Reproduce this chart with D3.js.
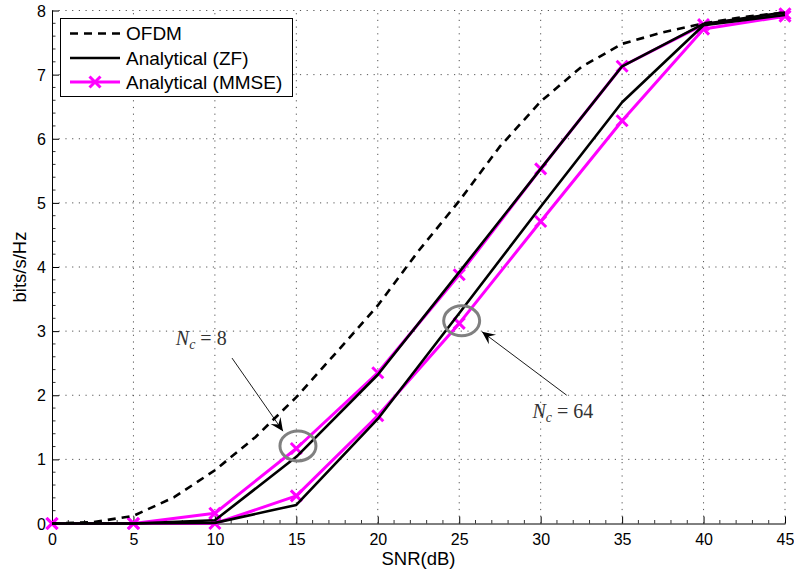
<!DOCTYPE html>
<html>
<head>
<meta charset="utf-8">
<script src="https://cdn.jsdelivr.net/npm/d3@7/dist/d3.min.js"></script>
<style>
  html, body { margin: 0; padding: 0; background: #fff; }
  svg { display: block; }
</style>
</head>
<body>
<svg id="chart" width="794" height="575"></svg>
<script>
// ---- data ----
const snr = [0, 5, 10, 15, 20, 25, 30, 35, 40, 45];
const ofdmSnr = [0, 2.5, 5, 7.5, 10, 12.5, 15, 17.5, 20, 22.5, 25, 27.5, 30, 32.5, 35, 37.5, 40, 42.5, 45];
const ofdm = [0, 0.02, 0.12, 0.41, 0.83, 1.35, 1.97, 2.68, 3.4, 4.25, 5.03, 5.88, 6.58, 7.12, 7.48, 7.66, 7.8, 7.9, 7.97];
const zf8 = [0, 0, 0.05, 1.04, 2.32, 3.92, 5.53, 7.13, 7.79, 7.97];
const mmse8 = [0, 0, 0.16, 1.17, 2.35, 3.88, 5.53, 7.13, 7.78, 7.95];
const zf64 = [0, 0, 0.01, 0.29, 1.63, 3.28, 4.94, 6.57, 7.77, 7.93];
const mmse64 = [0, 0, 0.0, 0.43, 1.68, 3.12, 4.71, 6.28, 7.71, 7.91];
const xTicks = [0, 5, 10, 15, 20, 25, 30, 35, 40, 45];
const yTicks = [0, 1, 2, 3, 4, 5, 6, 7, 8];
const legendLabels = ["OFDM", "Analytical (ZF)", "Analytical (MMSE)"];
const xLabel = "SNR(dB)";
const yLabel = "bits/s/Hz";

// ---- layout ----
const svg = d3.select("#chart");
const L = 52, R = 785, T = 10.5, B = 523.5;
const x = d3.scaleLinear().domain([0, 45]).range([L, R]);
const y = d3.scaleLinear().domain([0, 8]).range([B, T]);
const sans = "'Liberation Sans', Arial, Helvetica, sans-serif";
const serif = "'Liberation Serif', 'Times New Roman', serif";
const MAG = "#ff00ff";

// grid
const grid = svg.append("g");
grid.selectAll("line.gx").data(xTicks.filter(d => d > 0)).join("line")
  .attr("x1", d => x(d)).attr("x2", d => x(d)).attr("y1", B).attr("y2", T)
  .attr("stroke", "#555").attr("stroke-width", 1).attr("stroke-dasharray", "1.2,5.5");
grid.selectAll("line.gy").data(yTicks.filter(d => d > 0)).join("line")
  .attr("y1", d => y(d)).attr("y2", d => y(d)).attr("x1", L).attr("x2", R)
  .attr("stroke", "#555").attr("stroke-width", 1).attr("stroke-dasharray", "1.2,5.5");

// axes
const xAxis = d3.axisBottom(x).tickValues(xTicks).tickSize(-7).tickPadding(10).tickSizeOuter(0);
const yAxis = d3.axisLeft(y).tickValues(yTicks).tickSize(-7).tickPadding(6).tickSizeOuter(0);
const gx = svg.append("g").attr("transform", `translate(0,${B})`).call(xAxis);
const gy = svg.append("g").attr("transform", `translate(${L},0)`).call(yAxis);
[gx, gy].forEach(g => {
  g.select(".domain").attr("stroke", "#000").attr("stroke-width", 1);
  g.selectAll(".tick line").attr("stroke", "#000");
  g.selectAll(".tick text").attr("font-family", sans).attr("font-size", 16).attr("fill", "#000");
});
gx.selectAll(".tick text").attr("dy", "0.71em");
gy.selectAll(".tick text").attr("dy", "0.35em");

// minor ticks
const xMinor = d3.range(0, 46, 1).filter(d => d % 5 !== 0);
const yMinor = d3.range(0, 8.01, 0.2).filter(d => Math.abs(d - Math.round(d)) > 1e-6);
svg.append("g").selectAll("line").data(xMinor).join("line")
  .attr("x1", d => x(d)).attr("x2", d => x(d)).attr("y1", B).attr("y2", B - 3.5)
  .attr("stroke", "#000").attr("stroke-width", 0.8);
svg.append("g").selectAll("line").data(yMinor).join("line")
  .attr("y1", d => y(d)).attr("y2", d => y(d)).attr("x1", L).attr("x2", L + 3.5)
  .attr("stroke", "#000").attr("stroke-width", 0.8);

// axis labels
svg.append("text").attr("x", x(22.5)).attr("y", 565).attr("text-anchor", "middle")
  .attr("font-family", sans).attr("font-size", 18.5).text(xLabel);
svg.append("text").attr("transform", `translate(26,${y(4)}) rotate(-90)`).attr("text-anchor", "middle")
  .attr("font-family", sans).attr("font-size", 18.5).text(yLabel);

// lines
const line = d3.line().x(d => x(d[0])).y(d => y(d[1]));
const zip = (xs, ys) => xs.map((v, i) => [v, ys[i]]);
const plot = svg.append("g");

function xMarker(g, data, size, color, sw) {
  g.selectAll(null).data(data).join("path")
    .attr("d", d => {
      const cx = x(d[0]), cy = y(d[1]), s = size;
      return `M${cx - s},${cy - s}L${cx + s},${cy + s}M${cx - s},${cy + s}L${cx + s},${cy - s}`;
    })
    .attr("stroke", color).attr("stroke-width", sw).attr("fill", "none");
}

[mmse8, mmse64].forEach(ys => {
  const d = zip(snr, ys);
  plot.append("path").datum(d).attr("d", line).attr("fill", "none")
    .attr("stroke", MAG).attr("stroke-width", 3).attr("stroke-linejoin", "round");
  xMarker(plot, d, 5.5, MAG, 3);
});
[zf8, zf64].forEach(ys => {
  plot.append("path").datum(zip(snr, ys)).attr("d", line).attr("fill", "none")
    .attr("stroke", "#000").attr("stroke-width", 2.6).attr("stroke-linejoin", "round");
});
plot.append("path").datum(zip(ofdmSnr, ofdm)).attr("d", line).attr("fill", "none")
  .attr("stroke", "#000").attr("stroke-width", 2.6).attr("stroke-dasharray", "8,6");

// annotations: ellipses
const ann = svg.append("g");
[[15.1, 1.21], [25.15, 3.16]].forEach(c => {
  ann.append("ellipse").attr("cx", x(c[0])).attr("cy", y(c[1])).attr("rx", 18).attr("ry", 15)
    .attr("fill", "none").attr("stroke", "#808080").attr("stroke-width", 3);
});

// arrows
function arrow(x0, y0, x1, y1) {
  const X0 = x(x0), Y0 = y(y0), X1 = x(x1), Y1 = y(y1);
  ann.append("line").attr("x1", X0).attr("y1", Y0).attr("x2", X1).attr("y2", Y1)
    .attr("stroke", "#000").attr("stroke-width", 0.9);
  const ang = Math.atan2(Y1 - Y0, X1 - X0);
  const len = 13, wid = 6, back = 8;
  const ux = Math.cos(ang), uy = Math.sin(ang), px = -uy, py = ux;
  const p = [
    [X1, Y1],
    [X1 - len * ux + wid * px, Y1 - len * uy + wid * py],
    [X1 - back * ux, Y1 - back * uy],
    [X1 - len * ux - wid * px, Y1 - len * uy - wid * py]
  ];
  ann.append("path").attr("d", "M" + p.map(q => q.join(",")).join("L") + "Z").attr("fill", "#000");
}
arrow(11.05, 2.58, 14.18, 1.44);
arrow(31.6, 2.0, 26.4, 2.99);

// labels N_c
function ncLabel(xv, yv, val) {
  const t = ann.append("text").attr("x", x(xv)).attr("y", y(yv))
    .attr("font-family", serif).attr("font-size", 20).attr("fill", "#333");
  t.append("tspan").attr("font-style", "italic").text("N");
  t.append("tspan").attr("font-style", "italic").attr("font-size", 14).attr("dy", 4).attr("dx", 0).text("c");
  t.append("tspan").attr("dy", -4).attr("dx", 5).text("=");
  t.append("tspan").attr("dx", 5).text(val);
}
ncLabel(7.6, 2.78, "8");
ncLabel(29.5, 1.645, "64");

// legend
const lg = svg.append("g");
lg.append("rect").attr("x", 60.5).attr("y", 18.5).attr("width", 232).attr("height", 78)
  .attr("fill", "#fff").attr("stroke", "#000").attr("stroke-width", 1);
const rows = [33.5, 58, 82];
lg.append("line").attr("x1", 70).attr("x2", 120).attr("y1", rows[0]).attr("y2", rows[0])
  .attr("stroke", "#000").attr("stroke-width", 2.6).attr("stroke-dasharray", "8,6");
lg.append("line").attr("x1", 70).attr("x2", 120).attr("y1", rows[1]).attr("y2", rows[1])
  .attr("stroke", "#000").attr("stroke-width", 2.6);
lg.append("line").attr("x1", 70).attr("x2", 120).attr("y1", rows[2]).attr("y2", rows[2])
  .attr("stroke", MAG).attr("stroke-width", 3);
lg.append("path").attr("d", `M89.5,${rows[2] - 5.5}L100.5,${rows[2] + 5.5}M89.5,${rows[2] + 5.5}L100.5,${rows[2] - 5.5}`)
  .attr("stroke", MAG).attr("stroke-width", 3);
lg.selectAll("text").data(legendLabels).join("text")
  .attr("x", 126).attr("y", (d, i) => rows[i]).attr("dy", "0.35em")
  .attr("font-family", sans).attr("font-size", 19).attr("fill", "#000").text(d => d);
</script>
</body>
</html>
